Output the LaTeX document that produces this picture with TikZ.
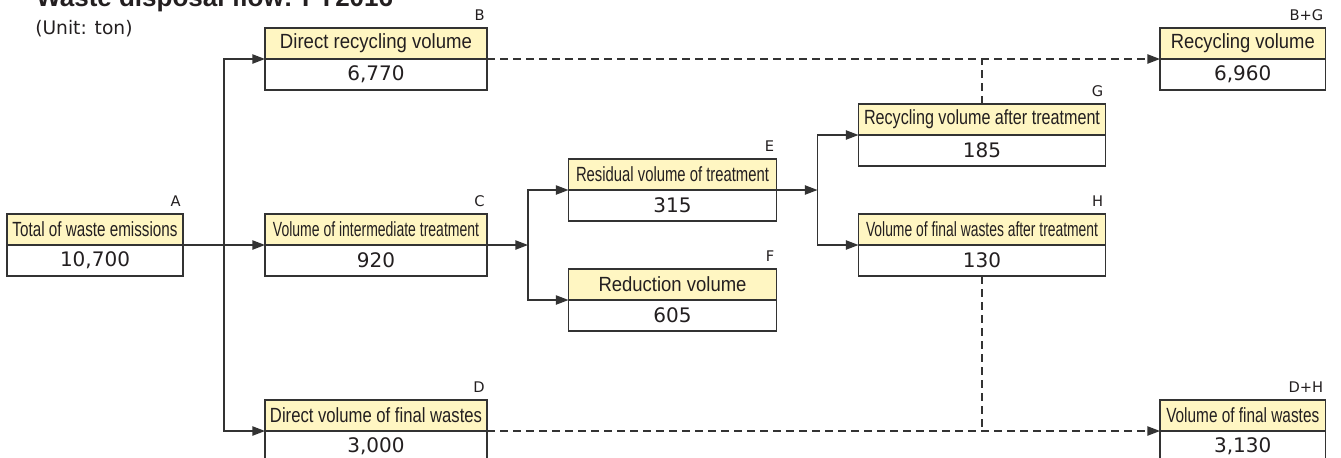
\documentclass[tikz,border=0pt]{standalone}
\usepackage{fontspec}
\usepackage{graphicx}
\setmainfont{Liberation Sans}
\newfontfamily\tagfont{DejaVu Sans}
\usetikzlibrary{arrows.meta, positioning}

\definecolor{hdrfill}{HTML}{FFF6C2}
\definecolor{linegray}{HTML}{333333}
\definecolor{txtgray}{HTML}{231F20}
% squeeze a header text to a given width (pt)
\newcommand{\fit}[2]{\resizebox{#1pt}{\height}{#2}}

\begin{document}
\begin{tikzpicture}[
    x=0.75pt, y=-0.75pt,
    head/.style={rectangle, draw=linegray, fill=hdrfill, line width=1pt, text=txtgray, minimum width={#1*0.75pt}, minimum height=23.25pt, inner sep=0pt, outer sep=0pt, anchor=north west, font=\fontsize{15.4}{16}\selectfont},
    val/.style={rectangle, draw=linegray, fill=white, line width=1pt, text=txtgray, minimum width={#1*0.75pt}, minimum height=23.25pt, inner sep=0pt, outer sep=0pt, font=\tagfont\fontsize{15}{16}\selectfont},
    tag/.style={inner sep=0pt, text=txtgray, font=\tagfont\fontsize{11}{12}\selectfont},
    arrow/.style={-{Triangle[length=9.5pt, width=7pt]}, draw=linegray, line width=1pt},
    link/.style={draw=linegray, line width=1pt, dash pattern=on 6pt off 3.75pt}
]
\useasboundingbox (0,0) rectangle (1341,457);
\clip (0,0) rectangle (1341,457);

\node[anchor=base west, inner sep=0pt, text=txtgray, font=\bfseries\fontsize{19.5}{20}\selectfont] (title) at (36,6.7) {Waste disposal flow: FY2016};
\node[anchor=base west, inner sep=0pt, text=txtgray, font=\tagfont\fontsize{14}{16}\selectfont] (unit) at (35,34) {(Unit: ton)};

\node[head=176] (a) at (7,214) {\fit{123.75}{Total of waste emissions}};
\node[val=176, below=0pt of a] (av) {10,700};
\node[tag, above left=5.3pt and 1.5pt of a.north east] (ta) {A};

\node[head=222] (b) at (265,28) {\fit{144}{Direct recycling volume}};
\node[val=222, below=0pt of b] (bv) {6,770};
\node[tag, above left=5.3pt and 1.5pt of b.north east] (tb) {B};

\node[head=222] (c) at (265,214) {\fit{154.5}{Volume of intermediate treatment}};
\node[val=222, below=0pt of c] (cv) {920};
\node[tag, above left=5.3pt and 1.5pt of c.north east] (tc) {C};

\node[head=222] (d) at (265,400) {\fit{159}{Direct volume of final wastes}};
\node[val=222, below=0pt of d] (dv) {3,000};
\node[tag, above left=5.3pt and 1.5pt of d.north east] (td) {D};

\node[head=208] (e) at (568.5,159) {\fit{144.75}{Residual volume of treatment}};
\node[val=208, below=0pt of e] (ev) {315};
\node[tag, above left=5.3pt and 1.5pt of e.north east] (te) {E};

\node[head=208] (f) at (568.5,269) {\fit{111}{Reduction volume}};
\node[val=208, below=0pt of f] (fv) {605};
\node[tag, above left=5.3pt and 1.5pt of f.north east] (tf) {F};

\node[head=247] (g) at (858.5,104) {\fit{177}{Recycling volume after treatment}};
\node[val=247, below=0pt of g] (gv) {185};
\node[tag, above left=5.3pt and 1.5pt of g.north east] (tg) {G};

\node[head=247] (h) at (858.5,214) {\fit{174}{Volume of final wastes after treatment}};
\node[val=247, below=0pt of h] (hv) {130};
\node[tag, above left=5.3pt and 1.5pt of h.north east] (th) {H};

\node[head=165.5] (bg) at (1160,28) {\fit{108}{Recycling volume}};
\node[val=165.5, below=0pt of bg] (bgv) {6,960};
\node[tag, above left=5.3pt and 1.5pt of bg.north east] (tbg) {B+G};

\node[head=165.5] (dh) at (1160,400) {\fit{114.75}{Volume of final wastes}};
\node[val=165.5, below=0pt of dh] (dhv) {3,130};
\node[tag, above left=5.3pt and 1.5pt of dh.north east] (tdh) {D+H};

% branch points
\coordinate (j1) at ([xshift=30.75pt]a.south east);
\coordinate (j2) at ([xshift=30.75pt]c.south east);
\coordinate (j3) at ([xshift=30.75pt]e.south east);

\draw[arrow] (a.south east) -- (c.south west);
\draw[arrow] (j1) |- (b.south west);
\draw[arrow] (j1) |- (d.south west);
\draw[arrow] (c.south east) -- (j2);
\draw[arrow] (j2) |- (e.south west);
\draw[arrow] (j2) |- (f.south west);
\draw[arrow] (e.south east) -- (j3);
\draw[arrow] (j3) |- (g.south west);
\draw[arrow] (j3) |- (h.south west);

% dashed totals
\draw[link, -{Triangle[length=9.5pt, width=7pt]}] (b.south east) -- (bg.south west);
\draw[link] (g.north) -- (g.north |- bg.south);
\draw[link, -{Triangle[length=9.5pt, width=7pt]}] (d.south east) -- (dh.south west);
\draw[link] (hv.south) -- (hv.south |- dh.south);

\end{tikzpicture}
\end{document}
